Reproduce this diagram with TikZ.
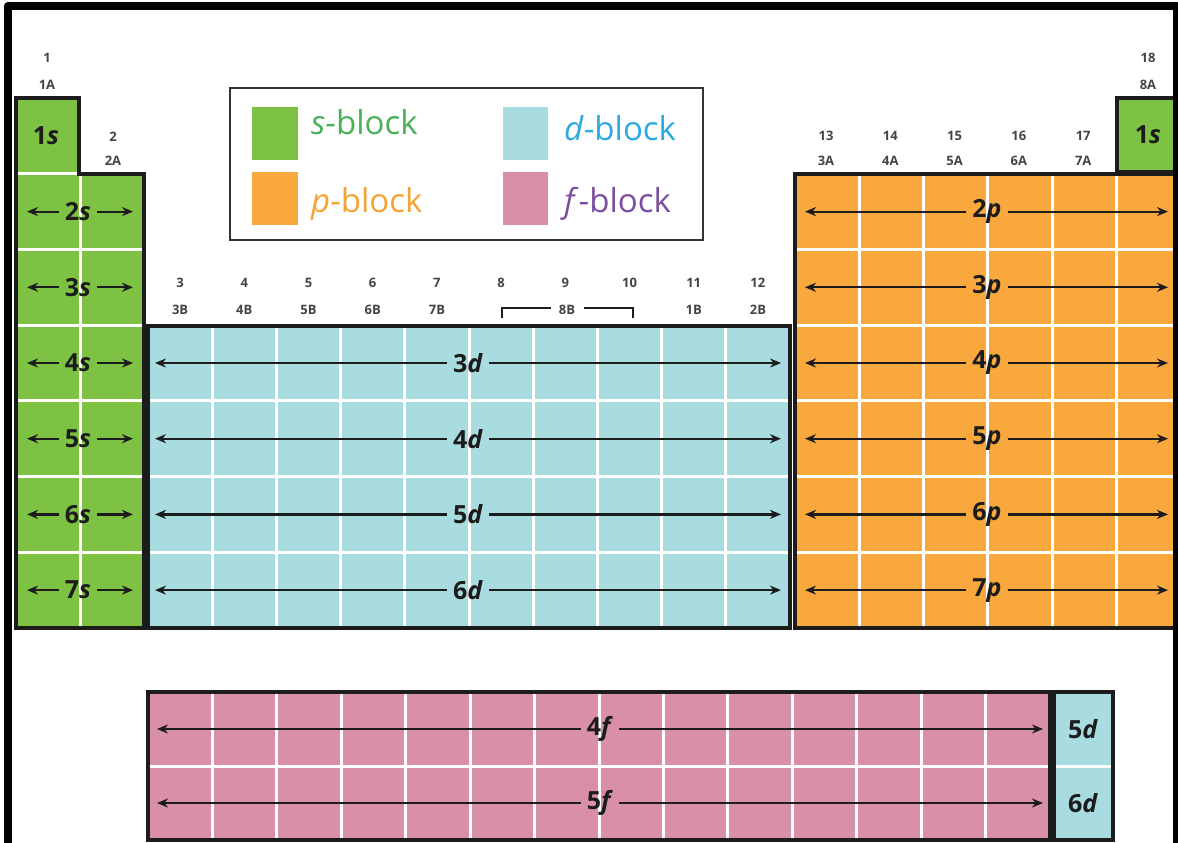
\documentclass[tikz,border=0pt]{standalone}
\usepackage{fontspec}
\setmainfont{Open Sans}
\usetikzlibrary{arrows.meta}
\definecolor{sgreen}{HTML}{7DC242}
\definecolor{porange}{HTML}{F9A83E}
\definecolor{dblue}{HTML}{A9DCE1}
\definecolor{fpink}{HTML}{D98FA6}
\definecolor{stext}{HTML}{4CAF5A}
\definecolor{dtext}{HTML}{2CAAE0}
\definecolor{ptext}{HTML}{F7A234}
\definecolor{ftext}{HTML}{7B4F9E}
\definecolor{grpgray}{HTML}{444444}
\definecolor{ink}{HTML}{1C1C1C}
\tikzset{
  grp/.style={font=\bfseries\fontsize{13}{13}\selectfont, text=grpgray, inner sep=0pt},
  orb/.style={font=\bfseries\fontsize{25}{25}\selectfont, text=ink, inner xsep=6pt, inner ysep=2pt},
  legtext/.style={font=\fontsize{33}{33}\selectfont, anchor=base west, inner sep=0pt},
  blockline/.style={line width=3.5pt, ink, line join=miter},
  whiteline/.style={white, line width=3pt},
  conn/.style={line width=2.2pt, ink, -{Stealth[length=11pt,width=9pt]}},
}
\begin{document}
\begin{tikzpicture}[x=1pt,y=-1pt]
\useasboundingbox (0,0) rectangle (1178,843);
\fill[white] (0,0) rectangle (1178,843);

% ---------- s-block ----------
\fill[sgreen] (16,98) -- (79,98) -- (79,174) -- (144,174) -- (144,628) -- (16,628) -- cycle;
\draw[whiteline] (16,173) -- (79,173);
\foreach \y in {249.4,325.1,400.9,476.6,552.3} \draw[whiteline] (16,\y) -- (144,\y);
\draw[whiteline] (80,175) -- (80,628);
\draw[blockline] (16,98) -- (79,98) -- (79,174) -- (144,174) -- (144,628) -- (16,628) -- cycle;
\node[orb] (s1) at (46,136) {1\textit{s}};
\foreach \n/\y in {2/211.6,3/287.3,4/363,5/438.7,6/514.4,7/590.1}{
  \node[orb] (s\n) at (78,\y) {\n\textit{s}};
  \coordinate (sL\n) at (27,\y);
  \coordinate (sR\n) at (133,\y);
  \draw[conn] (s\n) -- (sL\n);
  \draw[conn] (s\n) -- (sR\n);
}

% ---------- d-block ----------
\fill[dblue] (148,326) rectangle (790,628);
\foreach \k in {1,...,9} \draw[whiteline] ({148+\k*64.2},326) -- ({148+\k*64.2},628);
\foreach \y in {400.9,476.6,552.3} \draw[whiteline] (148,\y) -- (790,\y);
\draw[blockline] (148,326) rectangle (790,628);
\foreach \n/\y in {3/363,4/438.7,5/514.4,6/590.1}{
  \node[orb] (d\n) at (468,\y) {\n\textit{d}};
  \coordinate (dL\n) at (155,\y);
  \coordinate (dR\n) at (781,\y);
  \draw[conn] (d\n) -- (dL\n);
  \draw[conn] (d\n) -- (dR\n);
}

% ---------- p-block ----------
\fill[porange] (795,174) rectangle (1185,628);
\foreach \k in {1,...,5} \draw[whiteline] ({795+\k*64.3},174) -- ({795+\k*64.3},628);
\foreach \y in {249.4,325.1,400.9,476.6,552.3} \draw[whiteline] (795,\y) -- (1185,\y);
\draw[blockline] (795,174) rectangle (1185,628);
\foreach \n/\y in {2/211.6,3/287.3,4/363,5/438.7,6/514.4,7/590.1}{
  \node[orb] (p\n) at (987,\y) {\n\textit{p}};
  \coordinate (pL\n) at (805,\y);
  \coordinate (pR\n) at (1168,\y);
  \draw[conn] (p\n) -- (pL\n);
  \draw[conn] (p\n) -- (pR\n);
}

% ---------- He 1s ----------
\fill[sgreen] (1117,98) rectangle (1185,172);
\draw[blockline] (1117,98) rectangle (1185,172);
\node[orb] (he) at (1148,135) {1\textit{s}};

% ---------- f-block ----------
\fill[fpink] (148,692) rectangle (1050,840);
\foreach \k in {1,...,13} \draw[whiteline] ({148+\k*64.43},692) -- ({148+\k*64.43},840);
\draw[whiteline] (148,766) -- (1050,766);
\draw[blockline] (148,692) rectangle (1050,840);
\foreach \n/\y in {4/729,5/803}{
  \node[orb] (f\n) at (600,\y) {\n\textit{f}};
  \coordinate (fL\n) at (157,\y);
  \coordinate (fR\n) at (1043,\y);
  \draw[conn] (f\n) -- (fL\n);
  \draw[conn] (f\n) -- (fR\n);
}

% ---------- 5d / 6d ----------
\fill[dblue] (1054,692) rectangle (1113,840);
\draw[whiteline] (1054,766) -- (1113,766);
\draw[blockline] (1054,692) rectangle (1113,840);
\node[orb] (x5d) at (1083,729) {5\textit{d}};
\node[orb] (x6d) at (1083,803) {6\textit{d}};

% ---------- group headers ----------
\node[grp] (g1) at (47,58) {1};
\node[grp] (g1A) at (47,85) {1A};
\node[grp] (g2) at (113,137) {2};
\node[grp] (g2A) at (113,161) {2A};
\foreach \k/\a/\b in {0/3/3B,1/4/4B,2/5/5B,3/6/6B,4/7/7B,8/11/1B,9/12/2B}{
  \node[grp] (gn\a) at ({180.1+\k*64.2},283) {\a};
  \node[grp] (gl\a) at ({180.1+\k*64.2},310) {\b};
}
\foreach \k/\a in {5/8,6/9,7/10}{
  \node[grp] (gn\a) at ({180.1+\k*64.2},283) {\a};
}
\node[grp] (g8B) at (567,310) {8B};
\draw[ink, line width=2.2pt] (502,318) -- (502,308) -- (551,308);
\draw[ink, line width=2.2pt] (584,308) -- (633,308) -- (633,318);
\foreach \k/\a/\b in {0/13/3A,1/14/4A,2/15/5A,3/16/6A,4/17/7A}{
  \node[grp] (gn\a) at ({826+\k*64.3},136) {\a};
  \node[grp] (gl\a) at ({826+\k*64.3},161) {\b};
}
\node[grp] (g18) at (1148,58) {18};
\node[grp] (g8A) at (1148,85) {8A};

% ---------- legend ----------
\draw[line width=2pt, black!80, fill=white] (230,88) rectangle (703,240);
\fill[sgreen] (252,107) rectangle (298,160);
\fill[porange] (252,172) rectangle (298,225);
\fill[dblue] (503,107) rectangle (548,160);
\fill[fpink] (503,172) rectangle (548,225);
\node[legtext, text=stext] (ls) at (311,134) {\textit{s}-block};
\node[legtext, text=ptext] (lp) at (311,212) {\textit{p}-block};
\node[legtext, text=dtext] (ld) at (564,140) {\textit{d}-block};
\node[legtext, text=ftext] (lf) at (564,212) {\textit{f}-block};

% ---------- frame ----------
\draw[line width=8pt, black, line join=round] (8,860) -- (8,6) -- (1177,6) -- (1177,860);
\end{tikzpicture}
\end{document}
